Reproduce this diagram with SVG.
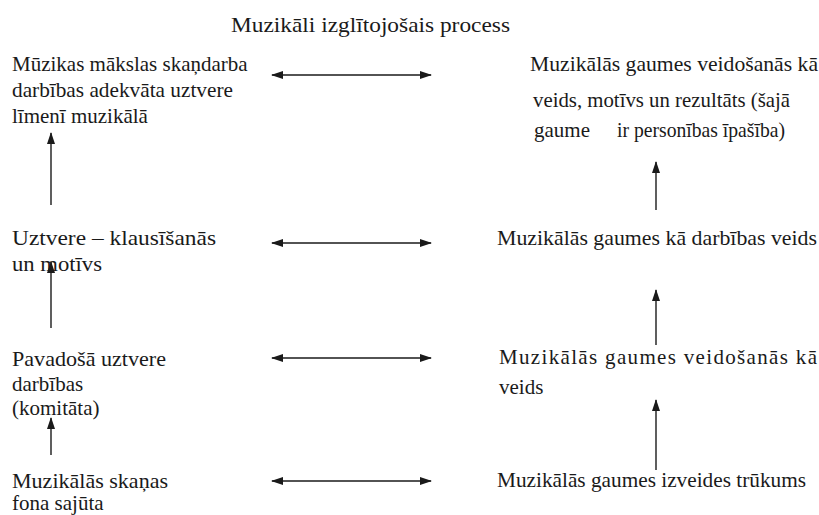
<svg xmlns="http://www.w3.org/2000/svg" width="819" height="515" viewBox="0 0 819 515">
<style>
  text { font-family: "Liberation Serif", "Times New Roman", serif; font-size: 21px; fill: #1a1a1a; }
  .ln { stroke: #1a1a1a; stroke-width: 1.4; fill: none; }
</style>
<defs>
  <marker id="ah" viewBox="0 0 12 8" refX="11" refY="4" markerWidth="12" markerHeight="8" markerUnits="userSpaceOnUse" orient="auto-start-reverse">
    <path d="M0,0 L12,4 L0,8 z" fill="#1a1a1a"/>
  </marker>
</defs>
<rect width="819" height="515" fill="#fff"/>
<text id="title" x="231" y="32" textLength="279" lengthAdjust="spacingAndGlyphs" style="font-size:22px">Muzikāli izglītojošais process</text>

<g id="l1">
  <text x="12" y="71">Mūzikas mākslas skaņdarba</text>
  <text x="12" y="97" textLength="221" lengthAdjust="spacingAndGlyphs">darbības adekvāta uztvere</text>
  <text x="12" y="123">līmenī muzikālā</text>
</g>
<g id="l2">
  <text x="12" y="245" textLength="204" lengthAdjust="spacingAndGlyphs">Uztvere – klausīšanās</text>
  <text x="12" y="271" textLength="90" lengthAdjust="spacingAndGlyphs">un motīvs</text>
</g>
<g id="l3">
  <text x="12" y="366" textLength="154" lengthAdjust="spacingAndGlyphs">Pavadošā uztvere</text>
  <text x="12" y="391">darbības</text>
  <text x="12" y="415">(komitāta)</text>
</g>
<g id="l4">
  <text x="12" y="488" textLength="156" lengthAdjust="spacingAndGlyphs">Muzikālās skaņas</text>
  <text x="12" y="510">fona sajūta</text>
</g>

<g id="r1">
  <text x="530" y="71" textLength="288" lengthAdjust="spacingAndGlyphs">Muzikālās gaumes veidošanās kā</text>
  <text x="533" y="107" textLength="257" lengthAdjust="spacingAndGlyphs">veids, motīvs un rezultāts (šajā</text>
  <text x="534" y="137">gaume</text>
  <text x="617" y="137" textLength="168" lengthAdjust="spacingAndGlyphs">ir personības īpašība)</text>
</g>
<g id="r2">
  <text x="497" y="245" textLength="320" lengthAdjust="spacingAndGlyphs">Muzikālās gaumes kā darbības veids</text>
</g>
<g id="r3">
  <text x="499" y="364" textLength="318" lengthAdjust="spacing">Muzikālās gaumes veidošanās kā</text>
  <text x="499" y="394">veids</text>
</g>
<g id="r4">
  <text x="497" y="487" textLength="309" lengthAdjust="spacingAndGlyphs">Muzikālās gaumes izveides trūkums</text>
</g>

<g id="connectors">
  <line class="ln" x1="272" y1="75" x2="431" y2="75" marker-start="url(#ah)" marker-end="url(#ah)"/>
  <line class="ln" x1="272" y1="243" x2="431" y2="243" marker-start="url(#ah)" marker-end="url(#ah)"/>
  <line class="ln" x1="272" y1="358" x2="431" y2="358" marker-start="url(#ah)" marker-end="url(#ah)"/>
  <line class="ln" x1="272" y1="481" x2="431" y2="481" marker-start="url(#ah)" marker-end="url(#ah)"/>

  <line class="ln" x1="51" y1="205" x2="51" y2="133" marker-end="url(#ah)"/>
  <line class="ln" x1="51" y1="328" x2="51" y2="262" marker-end="url(#ah)"/>
  <line class="ln" x1="51" y1="455" x2="51" y2="418" marker-end="url(#ah)"/>

  <line class="ln" x1="656" y1="210" x2="656" y2="162" marker-end="url(#ah)"/>
  <line class="ln" x1="656" y1="345" x2="656" y2="290" marker-end="url(#ah)"/>
  <line class="ln" x1="656" y1="470" x2="656" y2="400" marker-end="url(#ah)"/>
</g>
</svg>
